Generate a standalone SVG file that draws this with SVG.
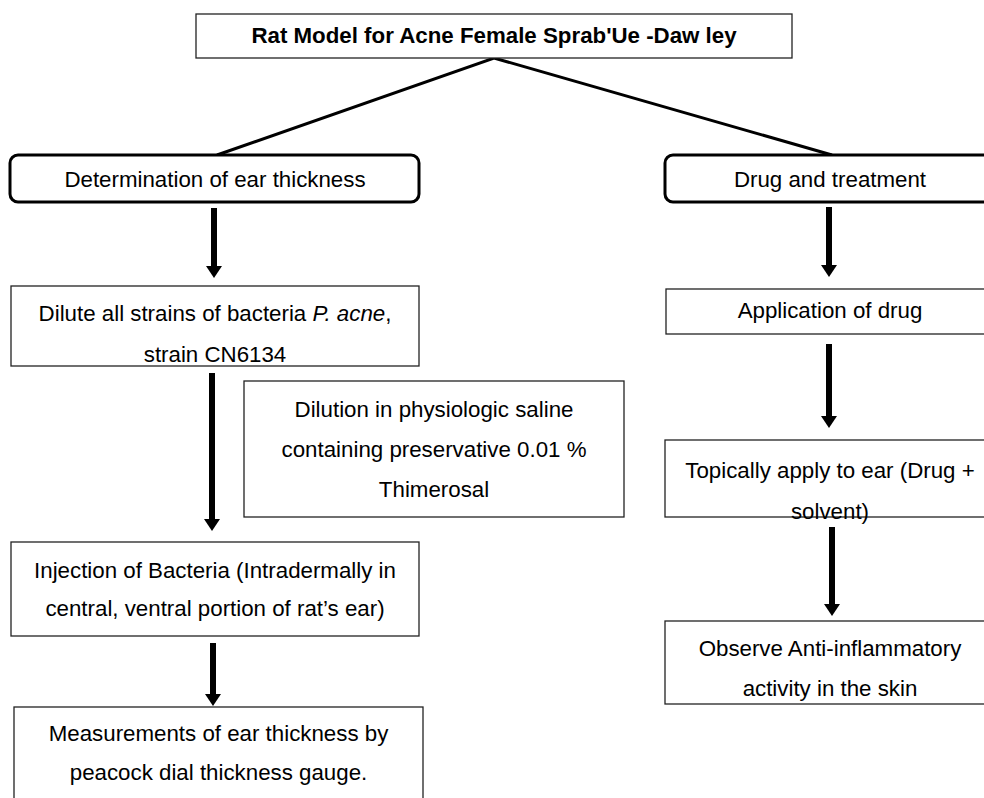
<svg xmlns="http://www.w3.org/2000/svg" width="984" height="798" viewBox="0 0 984 798">
<style>
  text { font-family: "Liberation Sans", Arial, sans-serif; font-size: 22.3px; fill: #000; text-anchor: middle; }
  .title { font-weight: bold; }
  .box { fill: #fff; stroke: #222; stroke-width: 1.3; }
  .rbox { fill: #fff; stroke: #000; stroke-width: 3; }
  .branch { stroke: #000; stroke-width: 3; fill: none; }
  .arrow { stroke: #000; stroke-width: 6; fill: none; marker-end: url(#head); }
</style>
<defs>
  <marker id="head" viewBox="0 0 12 16" refX="1" refY="8" markerWidth="12" markerHeight="16" markerUnits="userSpaceOnUse" orient="auto">
    <path d="M0,0 L12,8 L0,16 z" fill="#000"/>
  </marker>
</defs>
<rect width="984" height="798" fill="#fff"/>

<g id="connectors">
  <polyline class="branch" points="217,155 494,58 832,155"/>
  <line class="arrow" x1="214" y1="208" x2="214" y2="267"/>
  <line class="arrow" x1="212" y1="373" x2="212" y2="520"/>
  <line class="arrow" x1="213" y1="643" x2="213" y2="695"/>
  <line class="arrow" x1="829" y1="207" x2="829" y2="266"/>
  <line class="arrow" x1="829" y1="344" x2="829" y2="417"/>
  <line class="arrow" x1="832" y1="527" x2="832" y2="605"/>
</g>

<g id="title">
  <rect class="box" x="196" y="14" width="596" height="44"/>
  <text class="title" x="494" y="43">Rat Model for Acne Female Sprab'Ue -Daw ley</text>
</g>

<g id="ear-thickness">
  <rect class="rbox" x="10" y="155" width="409" height="47" rx="8"/>
  <text x="215" y="187">Determination of ear thickness</text>
</g>

<g id="drug-treatment">
  <rect class="rbox" x="665" y="155" width="340" height="47" rx="8"/>
  <text x="830" y="187">Drug and treatment</text>
</g>

<g id="dilute">
  <rect class="box" x="11" y="286" width="408" height="80"/>
  <text x="215" y="321">Dilute all strains of bacteria <tspan font-style="italic">P. acne</tspan>,</text>
  <text x="215" y="362">strain CN6134</text>
</g>

<g id="dilution">
  <rect class="box" x="244" y="381" width="380" height="136"/>
  <text x="434" y="417">Dilution in physiologic saline</text>
  <text x="434" y="457">containing preservative 0.01 %</text>
  <text x="434" y="497">Thimerosal</text>
</g>

<g id="injection">
  <rect class="box" x="11" y="542" width="408" height="94"/>
  <text x="215" y="578">Injection of Bacteria (Intradermally in</text>
  <text x="215" y="616">central, ventral portion of rat’s ear)</text>
</g>

<g id="measurement">
  <rect class="box" x="14" y="707" width="409" height="100"/>
  <text x="218.5" y="741">Measurements of ear thickness by</text>
  <text x="218.5" y="780">peacock dial thickness gauge.</text>
</g>

<g id="application">
  <rect class="box" x="666" y="289" width="330" height="45"/>
  <text x="830" y="318">Application of drug</text>
</g>

<g id="topical">
  <rect class="box" x="665" y="440" width="330" height="77"/>
  <text x="830" y="478">Topically apply to ear (Drug +</text>
  <text x="830" y="519">solvent)</text>
</g>

<g id="observe">
  <rect class="box" x="665" y="621" width="330" height="83"/>
  <text x="830" y="656">Observe Anti-inflammatory</text>
  <text x="830" y="696">activity in the skin</text>
</g>
</svg>
